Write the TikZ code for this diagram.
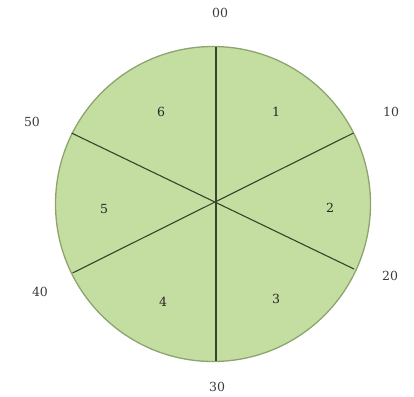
\documentclass[tikz,border=0pt]{standalone}
\usepackage{fontspec}
\setmainfont{DejaVu Serif}
\definecolor{pief}{HTML}{C4DDA0}
\definecolor{pieb}{HTML}{8DA46E}
\definecolor{spoke}{HTML}{35452C}
\definecolor{lab}{HTML}{3A3A3A}
\begin{document}
\begin{tikzpicture}[x=1pt,y=-1pt,
  outer/.style={text=lab,font=\fontsize{12.5}{15}\selectfont},
  inner/.style={text=black!85,font=\fontsize{12.5}{15}\selectfont},
  spokeline/.style={draw=spoke,line width=1.1pt}]
\useasboundingbox (0,0) rectangle (414,396);
\fill[pief,draw=pieb,line width=1.3pt] (213,204) circle (157.5);
\coordinate (c) at (216,201);
\coordinate (t) at (216,47);
\coordinate (b) at (216,361);
\coordinate (ur) at (353.5,133);
\coordinate (lr) at (354,269);
\coordinate (ul) at (71.5,133);
\coordinate (ll) at (72.5,273);
\draw[spokeline] (t) -- (b);
\draw[spokeline] (ul) -- (lr);
\draw[spokeline] (ll) -- (ur);
\node[outer] (l00) at (220,13) {00};
\node[outer] (l10) at (391,112) {10};
\node[outer] (l20) at (390,276) {20};
\node[outer] (l30) at (217,387) {30};
\node[outer] (l40) at (40,292) {40};
\node[outer] (l50) at (32,122) {50};
\node[inner] (s1) at (276,112) {1};
\node[inner] (s2) at (330,208) {2};
\node[inner] (s3) at (276,299) {3};
\node[inner] (s4) at (163,302) {4};
\node[inner] (s5) at (104,209) {5};
\node[inner] (s6) at (161,112) {6};
\end{tikzpicture}
\end{document}
